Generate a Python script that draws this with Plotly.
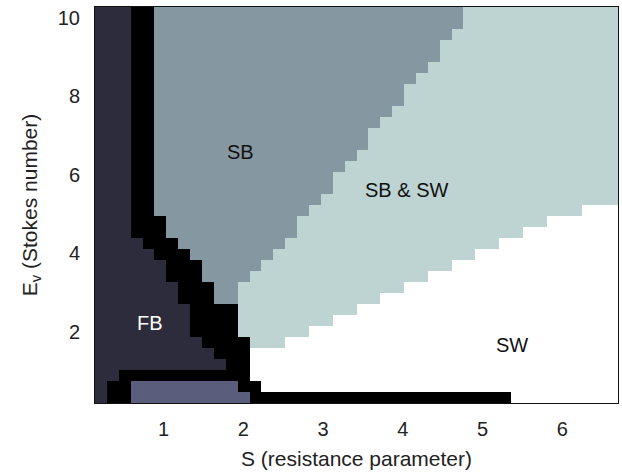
import numpy as np
import plotly.graph_objects as go

# ---------------- data (regime map) ----------------
# parameter grid: S (resistance parameter) and Ev (Stokes number)
S_START, S_END, N_S = 0.14, 6.70, 44
E_START, E_END, N_E = 0.19, 10.28, 36

# regime codes
REGIMES = ["FB", "boundary", "SB", "SB & SW", "SW", "FB (low Ev)"]

# per Ev-row (bottom to top): column index where each regime ends/starts
fb_end = [1, 1, 2, 11, 10, 9, 8, 8, 8, 7, 7, 6, 6, 5, 4, 3, 3, 3,
          3, 3, 3, 3, 3, 3, 3, 3, 3, 3, 3, 3, 3, 3, 3, 3, 3, 3]
boundary_end = [35, 14, 13, 13, 13, 13, 12, 12, 12, 10, 10, 9, 9, 8, 7, 6, 6, 5,
                5, 5, 5, 5, 5, 5, 5, 5, 5, 5, 5, 5, 5, 5, 5, 5, 5, 5]
sbsw_start = [35, 14, 13, 13, 13, 13, 12, 12, 12, 12, 12, 13, 14, 15, 16, 17, 17, 18,
              19, 20, 20, 21, 22, 23, 23, 24, 25, 26, 26, 27, 28, 29, 29, 30, 31, 31]
sw_start = [35, 14, 13, 13, 13, 16, 18, 20, 22, 24, 26, 28, 30, 32, 34, 36, 38, 41,
            44, 44, 44, 44, 44, 44, 44, 44, 44, 44, 44, 44, 44, 44, 44, 44, 44, 44]
# low-Ev pocket (rows 0 and 1)
low_rows = [0, 1]
low_start = [3, 3]
low_end = [13, 12]

labels = ["SB", "SB & SW", "FB", "SW"]
label_S = [1.96, 4.05, 0.83, 5.37]
label_E = [6.58, 5.62, 2.23, 1.67]
label_colors = ["#111111", "#111111", "#ffffff", "#111111"]

x_ticks = [1, 2, 3, 4, 5, 6]
y_ticks = [2, 4, 6, 8, 10]

colors = ["#2d2c3c", "#000000", "#8597a1", "#bed4d3", "#ffffff", "#5b5d7c"]

# ---------------- build grid ----------------
z = np.zeros((N_E, N_S), dtype=int)
for j in range(N_E):
    for i in range(N_S):
        if i < fb_end[j]:
            c = 0
        elif i < boundary_end[j]:
            c = 1
        elif i < sbsw_start[j]:
            c = 2
        elif i < sw_start[j]:
            c = 3
        else:
            c = 4
        z[j, i] = c
for r, a, b in zip(low_rows, low_start, low_end):
    z[r, a:b] = 5

x_edges = np.linspace(S_START, S_END, N_S + 1)
y_edges = np.linspace(E_START, E_END, N_E + 1)

n = len(colors)
cs = []
for k, col in enumerate(colors):
    cs.append([k / n, col])
    cs.append([(k + 1) / n, col])

fig = go.Figure()
fig.add_trace(go.Heatmap(
    z=z, x=x_edges, y=y_edges,
    colorscale=cs, zmin=-0.5, zmax=n - 0.5,
    showscale=False, hoverinfo="skip",
))

for t, sx, ey, c in zip(labels, label_S, label_E, label_colors):
    fig.add_annotation(x=sx, y=ey, text=t, showarrow=False,
                       font=dict(size=20, color=c, family="Liberation Sans, Arial"))

fig.update_layout(
    width=622, height=476,
    margin=dict(l=95, r=4, t=7, b=73),
    paper_bgcolor="white", plot_bgcolor="white",
    font=dict(family="Liberation Sans, Arial", size=20, color="#222222"),
    showlegend=False,
)
fig.update_xaxes(
    range=[S_START, S_END], tickvals=x_ticks, ticks="", showgrid=False,
    zeroline=False, showline=True, mirror=True, linecolor="#111111", linewidth=1,
    ticklabelstandoff=8,
    title=dict(text="S (resistance parameter)", font=dict(size=21), standoff=12),
)
fig.update_yaxes(
    range=[E_START, E_END], tickvals=y_ticks, ticks="", showgrid=False,
    zeroline=False, showline=True, mirror=True, linecolor="#111111", linewidth=1,
    ticklabelstandoff=10,
    title=dict(text="E<sub>v</sub> (Stokes number)", font=dict(size=21), standoff=14),
)

fig.write_html("out.html")
